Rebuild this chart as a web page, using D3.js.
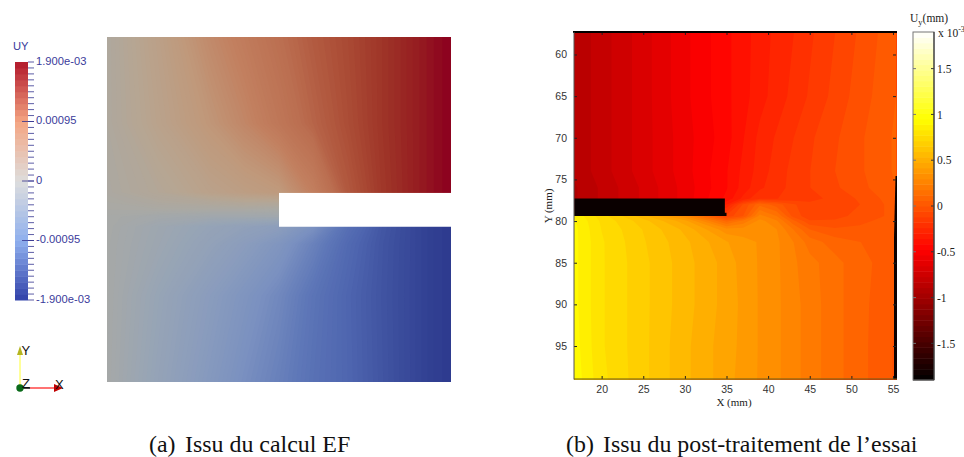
<!DOCTYPE html>
<html>
<head>
<meta charset="utf-8">
<script src="https://cdn.jsdelivr.net/npm/d3@7"></script>
<style>
  body { margin: 0; background: #fff; }
  svg { display: block; }
  .serif { font-family: "Liberation Serif", serif; }
  .sans { font-family: "Liberation Sans", sans-serif; }
</style>
</head>
<body>
<svg id="fig" width="964" height="457"></svg>
<script>
// (a) FE result, UY in 1e-3 mm on a mesh given in % of the part size
const feX = [0, 15, 30, 40, 50, 60, 70, 80, 90, 95, 100];
const feY = [0, 25, 45, 48, 50, 52, 55, 60, 75, 100];
const feField = [
    [0.10, 0.42, 0.78, 0.98, 1.18, 1.36, 1.50, 1.65, 1.79, 1.85, 1.90],
    [0.10, 0.36, 0.62, 0.82, 1.05, 1.28, 1.47, 1.65, 1.79, 1.85, 1.90],
    [0.06, 0.20, 0.38, 0.47, 0.56, 0.92, 1.38, 1.63, 1.79, 1.85, 1.90],
    [0.02, 0.10, 0.15, 0.20, 0.20, 0.60, 0.90, 1.00, 1.10, 1.15, 1.20],
    [0.00, 0.02, 0.02, 0.02, 0.00, 0.00, 0.00, 0.00, 0.00, 0.00, 0.00],
    [-0.03, -0.10, -0.15, -0.15, -0.15, -0.50, -0.90, -1.00, -1.10, -1.15, -1.20],
    [-0.03, -0.20, -0.36, -0.45, -0.55, -0.88, -1.32, -1.60, -1.78, -1.85, -1.90],
    [-0.04, -0.22, -0.42, -0.58, -0.78, -1.08, -1.40, -1.62, -1.78, -1.85, -1.90],
    [-0.04, -0.32, -0.60, -0.80, -1.00, -1.26, -1.46, -1.63, -1.78, -1.85, -1.90],
    [-0.05, -0.38, -0.70, -0.92, -1.10, -1.30, -1.45, -1.62, -1.78, -1.85, -1.90]
];
const feNotch = { x: [50, 100], y: [45.2, 55] };
const feColorVals = [-1.9, -1.65, -1.45, -1.2, -0.9, -0.6, -0.3, 0, 0.3, 0.6, 0.9, 1.2, 1.45, 1.65, 1.8, 1.9];
const feColors = ["#2d3a8e", "#3f52a0", "#4f66b0", "#5f78b8", "#7a90c0", "#8a9cbd", "#98a5b5", "#a9a9a5",
    "#b8a590", "#c0987a", "#c28060", "#bb6e50", "#ad5038", "#9f3528", "#951c20", "#8c001f"];

// colour bar of (a)
const barVals = [-1.9, -0.95, 0, 0.95, 1.9];
const barColors = ["#3040a8", "#8fb0ee", "#dddddd", "#f4a582", "#b2182b"];
const barLabels = ["-1.900e-03", "-0.00095", "0", "0.00095", "1.900e-03"];

// (b) measured field, Uy in 1e-3 mm
const expX = [16.7, 20, 25, 30, 35, 37, 39, 41, 43, 45, 48, 51, 55.4];
const expY = [57.3, 65, 70, 74, 76, 77.3, 78, 79.4, 80, 81, 82.5, 85, 90, 95, 99];
const expField = [
    [-0.88, -0.80, -0.68, -0.55, -0.43, -0.38, -0.33, -0.28, -0.24, -0.19, -0.12, -0.05, 0.05],
    [-0.88, -0.80, -0.68, -0.55, -0.43, -0.38, -0.32, -0.27, -0.22, -0.17, -0.10, -0.03, 0.06],
    [-0.88, -0.80, -0.68, -0.56, -0.44, -0.36, -0.28, -0.23, -0.18, -0.13, -0.07, -0.01, 0.07],
    [-0.88, -0.80, -0.68, -0.56, -0.42, -0.34, -0.27, -0.21, -0.16, -0.12, -0.06, -0.01, 0.07],
    [-0.90, -0.82, -0.70, -0.57, -0.42, -0.33, -0.25, -0.20, -0.16, -0.12, -0.07, -0.02, 0.06],
    [-0.90, -0.82, -0.70, -0.57, -0.40, -0.28, -0.18, -0.18, -0.16, -0.14, -0.10, -0.05, 0.04],
    [-0.90, -0.82, -0.70, -0.57, -0.30, -0.05, 0.10, 0.03, -0.05, -0.10, -0.09, -0.06, 0.03],
    [0.88, 0.74, 0.56, 0.30, -0.10, 0.00, 0.26, 0.18, -0.02, -0.10, -0.08, -0.04, 0.02],
    [0.90, 0.76, 0.62, 0.44, 0.10, 0.20, 0.32, 0.25, 0.08, -0.05, -0.05, -0.02, 0.04],
    [0.91, 0.77, 0.65, 0.52, 0.32, 0.32, 0.35, 0.30, 0.18, 0.06, 0.01, 0.02, 0.05],
    [0.91, 0.78, 0.66, 0.55, 0.42, 0.38, 0.35, 0.31, 0.24, 0.15, 0.09, 0.06, 0.04],
    [0.91, 0.78, 0.67, 0.56, 0.45, 0.39, 0.35, 0.31, 0.25, 0.20, 0.14, 0.08, 0.02],
    [0.91, 0.78, 0.67, 0.56, 0.45, 0.40, 0.35, 0.31, 0.26, 0.21, 0.14, 0.08, 0.00],
    [0.92, 0.78, 0.67, 0.55, 0.44, 0.40, 0.35, 0.31, 0.26, 0.21, 0.14, 0.08, -0.01],
    [0.93, 0.79, 0.67, 0.55, 0.44, 0.39, 0.35, 0.31, 0.26, 0.21, 0.14, 0.08, -0.01]
];
const expXTicks = [20, 25, 30, 35, 40, 45, 50, 55];
const expYTicks = [60, 65, 70, 75, 80, 85, 90, 95];
const expBarTicks = [-1.5, -1, -0.5, 0, 0.5, 1, 1.5];
// black crack mask, [X, Y] in mm
const crack = [[16.7, 77.3], [34.8, 77.3], [34.8, 79.0], [35, 79.0], [35, 79.4], [16.7, 79.4]];
const edgeStrip = [[55.3, 74.6], [55.48, 74.6], [55.48, 99], [55.12, 99], [55.12, 82]];
const hotStops = [0, 0.375, 0.75, 1];
const hotColors = ["#000000", "#ff0000", "#ffff00", "#ffffff"];

const svg = d3.select("#fig");

// filled contours on a non uniform grid
function drawField(g, values, xs, ys, sx, sy, thresholds, colorOf) {
    const nx = xs.length, ny = ys.length;
    const ix = d3.scaleLinear().domain(xs.map((d, i) => i + 0.5)).range(xs).clamp(true);
    const iy = d3.scaleLinear().domain(ys.map((d, i) => i + 0.5)).range(ys).clamp(true);
    const project = d3.geoTransform({
        point(x, y) { this.stream.point(sx(ix(x)), sy(iy(y))); }
    });
    const path = d3.geoPath(project);
    const contours = d3.contours().size([nx, ny]).thresholds(thresholds)(values.flat());
    g.selectAll("path").data(contours).enter().append("path")
        .attr("d", path)
        .attr("fill", d => colorOf(d.value));
}

// ---- (a)
const feSx = d3.scaleLinear().domain([0, 100]).range([107, 451]);
const feSy = d3.scaleLinear().domain([0, 100]).range([37, 382]);
const feColor = d3.scaleLinear().domain(feColorVals).range(feColors).clamp(true);
const feThresholds = d3.range(-2.0, 1.95, 0.025);
drawField(svg.append("g"), feField, feX, feY, feSx, feSy, feThresholds, v => feColor(v + 0.0125));

svg.append("rect")
    .attr("x", feSx(feNotch.x[0]))
    .attr("y", feSy(feNotch.y[0]))
    .attr("width", feSx(feNotch.x[1]) - feSx(feNotch.x[0]) + 1)
    .attr("height", feSy(feNotch.y[1]) - feSy(feNotch.y[0]))
    .attr("fill", "#fff");

// colour bar (a)
const navy = "#33338f";
const barScale = d3.scaleLinear().domain([-1.9, 1.9]).range([300, 62]);
const barColor = d3.scaleLinear().domain(barVals).range(barColors);
const barSteps = d3.range(-1.9, 1.9, 0.095);
svg.append("g").selectAll("rect").data(barSteps).enter().append("rect")
    .attr("x", 15)
    .attr("width", 13)
    .attr("y", d => barScale(d + 0.095))
    .attr("height", d => barScale(d) - barScale(d + 0.095) + 0.5)
    .attr("fill", d => barColor(d + 0.0475));
svg.append("g").selectAll("line").data(barSteps.concat([1.9])).enter().append("line")
    .attr("x1", 28).attr("x2", 34)
    .attr("y1", d => barScale(d)).attr("y2", d => barScale(d))
    .attr("stroke", navy).attr("stroke-width", 0.8);
svg.append("g").selectAll("line").data(barVals.slice(1, 4)).enter().append("line")
    .attr("x1", 22).attr("x2", 34)
    .attr("y1", d => barScale(d)).attr("y2", d => barScale(d))
    .attr("stroke", navy).attr("stroke-width", 0.8);
svg.append("g").attr("class", "sans").selectAll("text").data(barVals).enter().append("text")
    .attr("x", 36)
    .attr("y", d => barScale(d) + 2.5)
    .attr("font-size", 11.2)
    .attr("fill", "#3b3b9b")
    .text((d, i) => barLabels[i]);
svg.append("text").attr("class", "sans")
    .attr("x", 13).attr("y", 50).attr("font-size", 11.2).attr("fill", "#3b3b9b").text("UY");

// axes triad
svg.append("line").attr("x1", 20).attr("y1", 388).attr("x2", 20).attr("y2", 352)
    .attr("stroke", "#ffff99").attr("stroke-width", 2);
svg.append("path").attr("d", "M17,355 L20,346 L23,355 Z").attr("fill", "#b5b520");
svg.append("line").attr("x1", 20).attr("y1", 388).attr("x2", 56).attr("y2", 388)
    .attr("stroke", "#ff4444").attr("stroke-width", 1.5);
svg.append("line").attr("x1", 20).attr("y1", 388).attr("x2", 30).attr("y2", 388)
    .attr("stroke", "#444").attr("stroke-width", 2);
svg.append("path").attr("d", "M54,384 L63,388 L54,392 Z").attr("fill", "#c00000");
svg.append("circle").attr("cx", 20).attr("cy", 388).attr("r", 3.7).attr("fill", "#0a6a1a");
const triad = svg.append("g").attr("class", "sans").attr("font-size", 13).attr("fill", "#111");
triad.append("text").attr("x", 21.5).attr("y", 355).text("Y");
triad.append("text").attr("x", 22).attr("y", 388).text("Z");
triad.append("text").attr("x", 55).attr("y", 389).text("X");

// ---- (b)
const expSx = d3.scaleLinear().domain([16.68, 55.36]).range([574, 896]);
const expSy = d3.scaleLinear().domain([57.3, 98.96]).range([32, 379]);
const hot = d3.scaleLinear().domain(hotStops).range(hotColors).clamp(true);
const hotOf = v => hot((v + 1.9) / 3.8);
const band = 3.8 / 64;
const expThresholds = d3.range(0, 64).map(i => -1.9 + i * band);
drawField(svg.append("g"), expField, expX, expY, expSx, expSy, expThresholds, v => hotOf(v + band / 2));

const toPoints = pts => pts.map(p => [expSx(p[0]), expSy(p[1])].join(",")).join(" ");
svg.append("polygon").attr("points", toPoints(crack)).attr("fill", "#0a0000");
svg.append("polygon").attr("points", toPoints(edgeStrip)).attr("fill", "#0a0000");

const axisColor = "#333";
const xAxis = svg.append("g").attr("transform", "translate(0,379)")
    .call(d3.axisBottom(expSx).tickValues(expXTicks).tickSize(-3).tickPadding(7));
const yAxis = svg.append("g").attr("transform", "translate(574,0)")
    .call(d3.axisLeft(expSy).tickValues(expYTicks).tickSize(-3).tickPadding(7));
const xTop = svg.append("g").attr("transform", "translate(0,32)")
    .call(d3.axisTop(expSx).tickValues(expXTicks).tickSize(-3).tickFormat(""));
const yRight = svg.append("g").attr("transform", "translate(896,0)")
    .call(d3.axisRight(expSy).tickValues(expYTicks).tickSize(-3).tickFormat(""));
[xAxis, yAxis, xTop, yRight].forEach(a => {
    a.selectAll(".domain").remove();
    a.selectAll("line").attr("stroke", "#222");
    a.selectAll("text").attr("class", "sans").attr("font-size", 10.5).attr("fill", axisColor);
});
svg.append("line").attr("x1", 573).attr("x2", 897).attr("y1", 32).attr("y2", 32)
    .attr("stroke", "#000").attr("stroke-width", 2);
svg.append("line").attr("x1", 574).attr("x2", 574).attr("y1", 32).attr("y2", 379.5)
    .attr("stroke", "#555").attr("stroke-width", 1);
svg.append("line").attr("x1", 574).attr("x2", 897).attr("y1", 379).attr("y2", 379)
    .attr("stroke", "#6b5a1a").attr("stroke-width", 1);
svg.append("text").attr("class", "serif").attr("x", 734).attr("y", 406)
    .attr("text-anchor", "middle").attr("font-size", 11).attr("fill", "#222").text("X (mm)");
svg.append("text").attr("class", "serif")
    .attr("transform", "translate(552,206) rotate(-90)")
    .attr("text-anchor", "middle").attr("font-size", 11).attr("fill", "#222").text("Y (mm)");

// colour bar (b)
const expBarScale = d3.scaleLinear().domain([-1.9, 1.9]).range([380, 32]);
const expBarG = svg.append("g");
expBarG.selectAll("rect").data(expThresholds).enter().append("rect")
    .attr("x", 913)
    .attr("width", 21)
    .attr("y", d => expBarScale(d + band))
    .attr("height", d => expBarScale(d) - expBarScale(d + band) + 0.5)
    .attr("fill", d => hotOf(d + band / 2));
svg.append("g").attr("transform", "translate(934,0)")
    .call(d3.axisRight(expBarScale).tickValues(expBarTicks).tickSize(0).tickPadding(3).tickFormat(d => String(d)))
    .call(a => a.select(".domain").remove())
    .call(a => a.selectAll("text").attr("class", "serif").attr("font-size", 11.5).attr("fill", "#222"));
expBarG.selectAll("line.in").data(expBarTicks).enter().append("line")
    .attr("x1", 913).attr("x2", 916)
    .attr("y1", d => expBarScale(d)).attr("y2", d => expBarScale(d))
    .attr("stroke", "#777");
expBarG.selectAll("line.out").data(expBarTicks).enter().append("line")
    .attr("x1", 931).attr("x2", 934)
    .attr("y1", d => expBarScale(d)).attr("y2", d => expBarScale(d))
    .attr("stroke", "#333");
svg.append("rect").attr("x", 913).attr("y", 32).attr("width", 21).attr("height", 348)
    .attr("fill", "none").attr("stroke", "#777");
svg.append("line").attr("x1", 934).attr("x2", 934).attr("y1", 32).attr("y2", 380).attr("stroke", "#222");

const unit = svg.append("text").attr("class", "serif").attr("x", 910).attr("y", 22)
    .attr("font-size", 11.5).attr("fill", "#222");
unit.append("tspan").text("U");
unit.append("tspan").attr("font-size", 8.5).attr("dy", 3).text("y");
unit.append("tspan").attr("dy", -3).text("(mm)");
const mult = svg.append("text").attr("class", "serif").attr("x", 938).attr("y", 37)
    .attr("font-size", 11.5).attr("fill", "#222");
mult.append("tspan").text("x 10");
mult.append("tspan").attr("font-size", 8).attr("dy", -5).text("-3");

// captions
const caption = svg.append("g").attr("class", "serif").attr("font-size", 23.9).attr("fill", "#111");
caption.append("text").attr("x", 149).attr("y", 452).text("(a)");
caption.append("text").attr("x", 185).attr("y", 452).text("Issu du calcul EF");
caption.append("text").attr("x", 566).attr("y", 452).text("(b)");
caption.append("text").attr("x", 603).attr("y", 452).text("Issu du post-traitement de l\u2019essai");
</script>
</body>
</html>
